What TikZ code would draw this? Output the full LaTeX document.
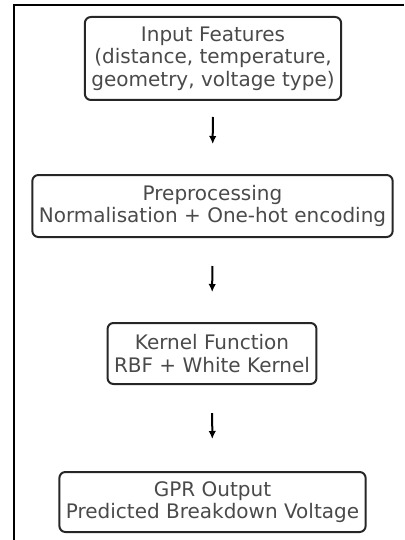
\documentclass[tikz,border=0pt]{standalone}
\usepackage{fontspec}
\setmainfont{DejaVu Sans}
\usetikzlibrary{arrows.meta}
\definecolor{txtgray}{HTML}{4A4A4A}
\tikzset{
  stepbox/.style={draw=black!85,line width=2pt,rounded corners=6pt,
    align=center,text=txtgray,font=\fontsize{20}{22.5}\selectfont,
    inner xsep=6.5pt,inner ysep=4pt},
  arr/.style={-{Latex[length=8pt,width=7.5pt]},line width=2pt}
}
\begin{document}
\begin{tikzpicture}[x=1pt,y=-1pt]
        \useasboundingbox (0,0) rectangle (404,540);
        \draw[line width=1.8pt] (14,540) -- (14,5) -- (404,5);
        \node[stepbox,minimum height=83pt] (input) at (213,58.5) {Input Features\\(distance, temperature,\\geometry, voltage type)};
        \node[stepbox,minimum height=62pt] (prep) at (212.5,206) {Preprocessing\\Normalisation + One-hot encoding};
        \node[stepbox,minimum height=61pt] (kernel) at (212,353.5) {Kernel Function\\RBF + White Kernel};
        \node[stepbox,minimum height=60pt] (gpr) at (212.5,502) {GPR Output\\Predicted Breakdown Voltage};
        \draw[arr,shorten <=16pt,shorten >=30pt] (input) -- (prep);
        \draw[arr,shorten <=28pt,shorten >=30pt] (prep) -- (kernel);
        \draw[arr,shorten <=28pt,shorten >=32pt] (kernel) -- (gpr);
      \end{tikzpicture}
\end{document}
